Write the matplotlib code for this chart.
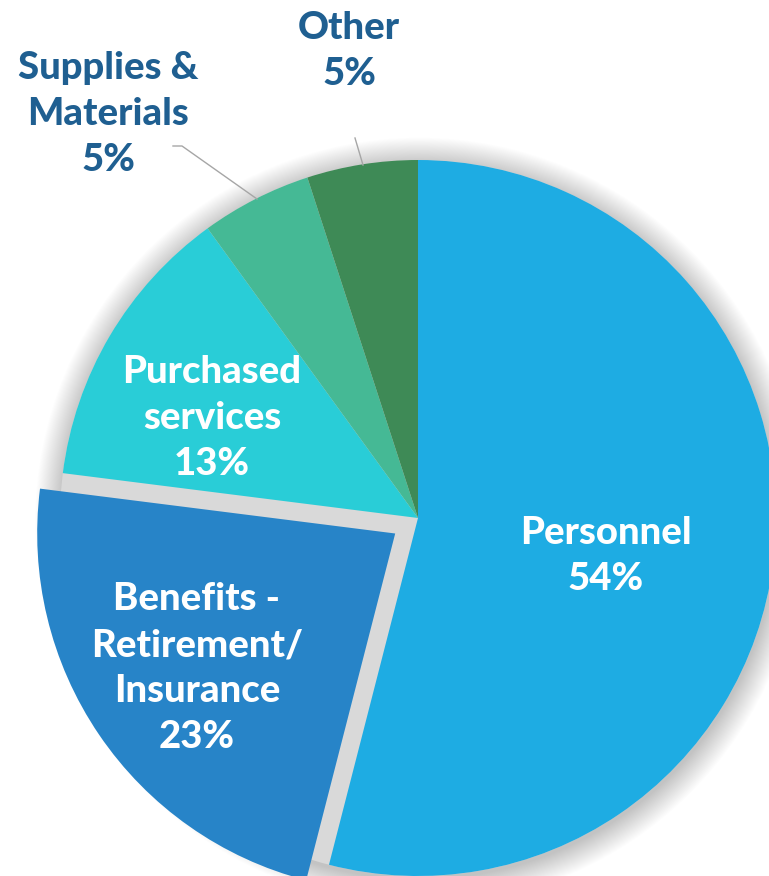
import numpy as np
import matplotlib.pyplot as plt
from matplotlib.patches import Circle

# ---------------------------------------------------------------
# Expense breakdown
# ---------------------------------------------------------------
labels = ['Personnel', 'Benefits -\nRetirement/\nInsurance', 'Purchased\nservices',
          'Supplies &\nMaterials', 'Other']
shares = [54, 23, 13, 5, 5]
colors = ['#1EACE3', '#2784C8', '#29CDD7', '#45B995', '#3E8A56']
explode = [0, 0.077, 0, 0, 0]

W, H = 769, 876          # output size in pixels
cx, cy, R = 418, 518, 358  # pie centre / radius in pixels


def px(x, y):
    # pixel position -> data coords (unit radius pie at origin)
    return (x - cx) / R, (cy - y) / R


fig = plt.figure(figsize=(W / 100, H / 100), dpi=100)
ax = fig.add_axes([0, 0, 1, 1])
ax.axis('off')

# soft drop shadow under the pie
for k in range(30):
    r = 1.0 + 0.0025 * k
    ax.add_patch(Circle((0.003, -0.01), r, color='#000000', alpha=0.007, lw=0, zorder=0))
ax.add_patch(Circle((0, 0), 1.0, color='#d9d9d9', lw=0, zorder=1))

wedges, _ = ax.pie(shares, colors=colors, explode=explode, startangle=90,
                   counterclock=False, radius=1.0,
                   wedgeprops=dict(linewidth=0, zorder=2))
for w in wedges:
    w.set_zorder(2)

font = dict(family=['Lato', 'DejaVu Sans'], weight='black', fontsize=27.5,
            ha='center', va='center', linespacing=1.42)

# labels inside the slices
inner_pos = [(606, 556), (197, 668), (212, 418)]
for i, (x, y) in enumerate(inner_pos):
    ax.text(*px(x, y), f'{labels[i]}\n{shares[i]}%', color='white', zorder=5, **font)

# labels outside with leader lines
out_pos = [(108, 114), (349, 51)]
for i, (x, y) in zip([3, 4], out_pos):
    ax.text(*px(x, y), f'{labels[i]}\n{shares[i]}%', color='#1F5F91', zorder=5, **font)

ax.plot(*zip(px(173, 146), px(182, 146), px(257, 199)), color='#a6a6a6', lw=1, zorder=3)
ax.plot(*zip(px(355, 138), px(363, 165)), color='#a6a6a6', lw=1, zorder=3)

x0, y0 = px(0, H)
x1, y1 = px(W, 0)
ax.set_xlim(x0, x1)
ax.set_ylim(y0, y1)
ax.set_aspect('auto')

fig.savefig('out.png', dpi=100, facecolor='white')
